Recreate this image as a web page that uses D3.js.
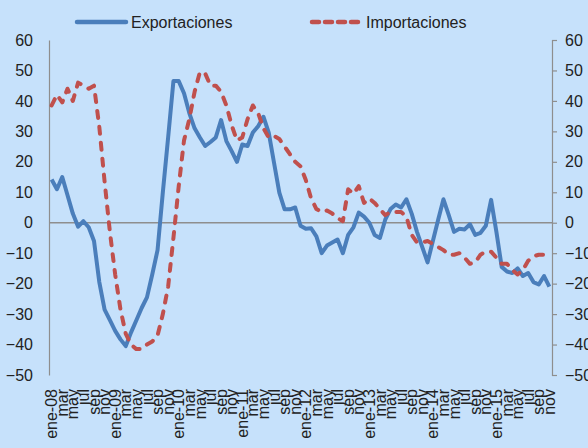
<!DOCTYPE html>
<html>
<head>
<meta charset="utf-8">
<script src="https://cdn.jsdelivr.net/npm/d3@7/dist/d3.min.js"></script>
<style>
  body { margin: 0; background: #c6e1fb; }
  svg { display: block; font-family: "Liberation Sans", Arial, sans-serif; }
</style>
</head>
<body>
<svg width="588" height="448"></svg>
<script>
const monthNames = ["ene", "feb", "mar", "abr", "may", "jun", "jul", "ago", "sep", "oct", "nov", "dic"];
const years = ["08", "09", "10", "11", "12", "13", "14", "15"];
const yTicks = [-50, -40, -30, -20, -10, 0, 10, 20, 30, 40, 50, 60];

// variacion interanual (%)
const exportaciones = [
  14.2, 11, 15, 9, 3, -1.3, 0.5, -1.5, -6, -19.5, -28.5, -32,
  -35.5, -38.3, -40.5, -36, -32, -28, -24.5, -17, -9, 10, 28, 46.5,
  46.5, 42.5, 36, 31, 28, 25.2, 26.5, 28, 33.7, 26.8, 23.5, 20,
  25.7, 25.2, 29.6, 31.7, 34.8, 29.6, 19.7, 9.9, 4.4, 4.4, 5, -1,
  -2, -1.8, -4.5, -10, -7.5, -6.5, -5.5, -10, -4, -1.5, 3.3, 2,
  0, -4, -5, 1, 4.5, 6, 5, 7.7, 3, -3, -8, -13,
  -6, 1, 7.7, 2.5, -3, -2, -2.2, -0.5, -4, -3.3, -1, 7.5,
  -3, -14.5, -16, -16.5, -15, -17.5, -16.5, -19.5, -20.3, -17.5, -21
];
const importaciones = [
  38.5, 42, 39.5, 44, 40, 46, 45, 44, 45, 31.5, 13.5, -3,
  -17, -28.5, -36.5, -40, -41.5, -41.5, -40, -39, -37, -30, -21, -5,
  12, 27, 34, 43, 49.5, 49, 45, 45, 43, 38.5, 32, 27,
  28, 34, 38.5, 36, 31, 28, 28.5, 27.5, 25, 22.5, 20, 18.5,
  14, 8, 4.5, 3.5, 4, 3, 1.5, 0.5, 11, 9.5, 12, 6.5,
  8, 6.5, 4.5, 2.5, 3.5, 3.5, 3.5, 2, -4, -6.5, -6.5, -6,
  -7, -8, -9, -10.5, -10.5, -10, -11.5, -13.5, -13, -10.5, -9.5, -9.5,
  -11.5, -13.5, -13.5, -15.5, -17, -15.5, -12.5, -11, -10.5, -10.5, -11
];

// category labels: year shown only on January
const months = [];
years.forEach(yy => monthNames.forEach((m, k) => months.push(k === 0 ? m + "-" + yy : m)));
const categories = d3.range(exportaciones.length);

const svg = d3.select("svg");
const plotLeft = 49, plotRight = 552, plotTop = 40, plotBottom = 375;

const x = d3.scaleBand().domain(categories).range([plotLeft, plotRight]);
const y = d3.scaleLinear().domain([-50, 60]).range([plotBottom, plotTop]);
const cx = d => x(d) + x.bandwidth() / 2;

// zero line
svg.append("line")
  .attr("x1", plotLeft).attr("x2", plotRight)
  .attr("y1", y(0)).attr("y2", y(0))
  .attr("stroke", "#8e8e8e").attr("stroke-width", 1.5);

// left axis
const yLeft = svg.append("g")
  .attr("transform", `translate(${plotLeft},0)`)
  .call(d3.axisLeft(y).tickValues(yTicks).tickSize(0).tickPadding(16));
yLeft.select(".domain").attr("stroke", "#8e8e8e").attr("stroke-width", 1.2);

// right axis
const yRight = svg.append("g")
  .attr("transform", `translate(${plotRight},0)`)
  .call(d3.axisRight(y).tickValues(yTicks).tickSize(5).tickPadding(8));
yRight.select(".domain").attr("stroke", "#8e8e8e").attr("stroke-width", 1.2);
yRight.selectAll(".tick line").attr("stroke", "#8e8e8e").attr("stroke-width", 1.2);

svg.selectAll(".tick text")
  .attr("font-size", 16)
  .attr("font-family", "Liberation Sans, Arial, sans-serif")
  .attr("fill", "#222");

// x labels every two months
const xAxis = svg.append("g")
  .attr("transform", `translate(0,${plotBottom + 14})`)
  .call(d3.axisBottom(x)
    .tickValues(categories.filter(i => i % 2 === 0))
    .tickFormat(i => months[i])
    .tickSize(0));
xAxis.select(".domain").remove();
xAxis.selectAll(".tick text")
  .attr("font-size", 16)
  .attr("font-family", "Liberation Sans, Arial, sans-serif")
  .attr("fill", "#222")
  .attr("transform", "rotate(-90)")
  .attr("text-anchor", "end")
  .attr("x", 0)
  .attr("y", 0)
  .attr("dx", 0)
  .attr("dy", "0.35em");

const line = d3.line()
  .x((d, i) => cx(categories[i]))
  .y(d => y(d));

svg.append("path")
  .datum(exportaciones)
  .attr("fill", "none")
  .attr("stroke", "#4a7ebb")
  .attr("stroke-width", 4)
  .attr("stroke-linejoin", "round")
  .attr("d", line);

svg.append("path")
  .datum(importaciones)
  .attr("fill", "none")
  .attr("stroke", "#c0504d")
  .attr("stroke-width", 4)
  .attr("stroke-dasharray", "7,9")
  .attr("stroke-linecap", "round")
  .attr("stroke-linejoin", "round")
  .attr("d", line);

// legend
const legend = [
  { name: "Exportaciones", color: "#4a7ebb", dash: null, x: 75 },
  { name: "Importaciones", color: "#c0504d", dash: "7,6", x: 310 }
];
legend.forEach(l => {
  svg.append("line")
    .attr("x1", l.x + 2).attr("x2", l.x + 51)
    .attr("y1", 22).attr("y2", 22)
    .attr("stroke", l.color)
    .attr("stroke-width", 4.5)
    .attr("stroke-linecap", "round")
    .attr("stroke-dasharray", l.dash);
  svg.append("text")
    .attr("x", l.x + 56)
    .attr("y", 28)
    .attr("font-size", 16)
    .attr("fill", "#222")
    .text(l.name);
});
</script>
</body>
</html>
